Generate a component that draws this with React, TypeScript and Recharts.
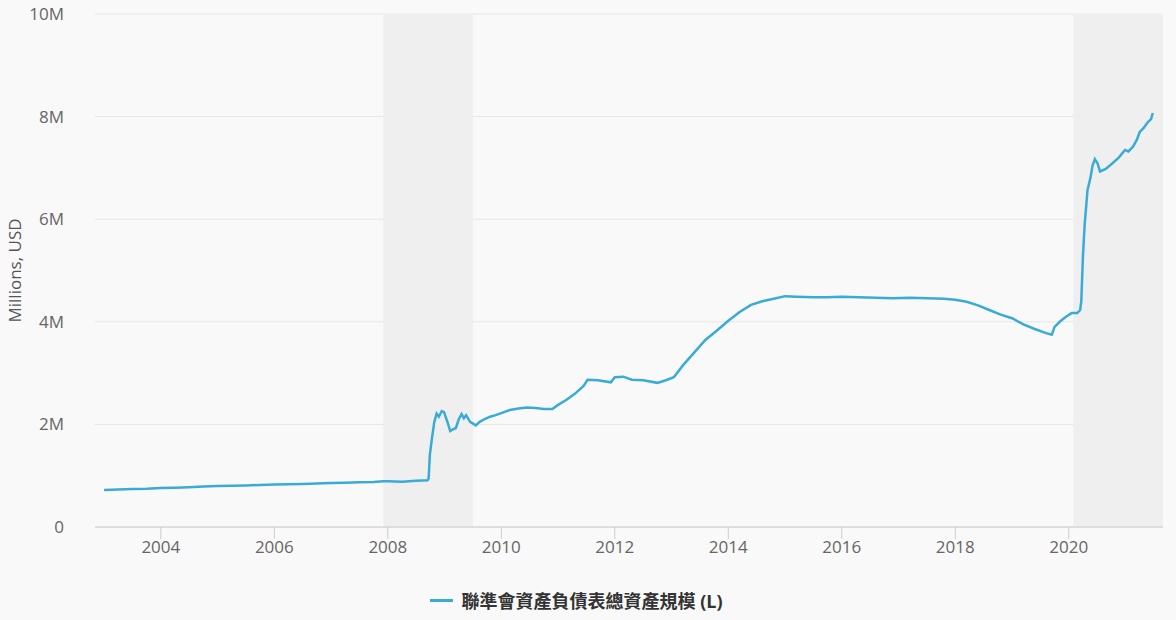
import React from 'react'
import {
  LineChart,
  Line,
  XAxis,
  YAxis,
  CartesianGrid,
  ReferenceArea,
  Legend,
} from 'recharts'

// decimal years
const years = [
  2003.0, 2003.25, 2003.5, 2003.75, 2004.0, 2004.25, 2004.5, 2004.75,
  2005.0, 2005.25, 2005.5, 2005.75, 2006.0, 2006.25, 2006.5, 2006.75,
  2007.0, 2007.25, 2007.5, 2007.75, 2007.92, 2008.0, 2008.25, 2008.5,
  2008.7, 2008.72, 2008.74, 2008.78, 2008.82, 2008.86, 2008.9, 2008.95,
  2008.99, 2009.05, 2009.1, 2009.14, 2009.2, 2009.25, 2009.3, 2009.34,
  2009.38, 2009.45, 2009.55, 2009.62, 2009.7, 2009.8, 2009.9, 2010.0,
  2010.15, 2010.3, 2010.45, 2010.6, 2010.75, 2010.9, 2011.0, 2011.15,
  2011.3, 2011.45, 2011.52, 2011.7, 2011.93, 2012.0, 2012.15, 2012.3,
  2012.5, 2012.75, 2012.9, 2013.04, 2013.2, 2013.39, 2013.6, 2013.8,
  2014.0, 2014.2, 2014.4, 2014.6, 2014.8, 2015.0, 2015.2, 2015.5,
  2015.75, 2016.0, 2016.3, 2016.6, 2016.9, 2017.2, 2017.5, 2017.8,
  2018.0, 2018.2, 2018.4, 2018.6, 2018.8, 2019.0, 2019.2, 2019.4,
  2019.6, 2019.7, 2019.75, 2019.85, 2019.95, 2020.05, 2020.15, 2020.2,
  2020.22, 2020.25, 2020.28, 2020.33, 2020.38, 2020.42, 2020.46, 2020.51,
  2020.55, 2020.65, 2020.77, 2020.88, 2020.99, 2021.05, 2021.13, 2021.2,
  2021.25, 2021.32, 2021.39, 2021.45, 2021.48,
]

// total assets, in M (millions of USD, millions)
const assets = [
  0.72, 0.73, 0.74, 0.745, 0.76, 0.765, 0.775, 0.79,
  0.8, 0.805, 0.81, 0.82, 0.83, 0.835, 0.84, 0.85,
  0.86, 0.865, 0.87, 0.875, 0.89, 0.89, 0.88, 0.9,
  0.91, 0.95, 1.4, 1.75, 2.05, 2.21, 2.15, 2.26,
  2.24, 2.05, 1.87, 1.9, 1.93, 2.1, 2.2, 2.12,
  2.18, 2.05, 1.98, 2.05, 2.1, 2.15, 2.18, 2.22,
  2.28, 2.31, 2.33, 2.32, 2.3, 2.3, 2.38, 2.48,
  2.6, 2.75, 2.87, 2.86, 2.82, 2.92, 2.93, 2.87,
  2.86, 2.81, 2.86, 2.92, 3.15, 3.39, 3.65, 3.83,
  4.02, 4.19, 4.33, 4.4, 4.45, 4.5, 4.49, 4.48,
  4.48, 4.49, 4.48, 4.47, 4.46, 4.47, 4.46, 4.45,
  4.43, 4.39, 4.32, 4.23, 4.14, 4.07, 3.95, 3.86,
  3.78, 3.75, 3.9, 4.01, 4.1, 4.17, 4.17, 4.23,
  4.4, 5.3, 5.9, 6.57, 6.8, 7.05, 7.17, 7.08,
  6.93, 6.98, 7.09, 7.2, 7.35, 7.32, 7.41, 7.55,
  7.7, 7.78, 7.89, 7.95, 8.07,
]

const xTicks = [2004, 2006, 2008, 2010, 2012, 2014, 2016, 2018, 2020]
const yTicks = [0, 2, 4, 6, 8, 10]

// recession shading
const recessions = [
  [2007.92, 2009.5],
  [2020.08, 2021.66],
]

const seriesName = '聯準會資產負債表總資產規模 (L)'
const lineColor = '#3aabd6'
const font = '"Open Sans", "Noto Sans CJK TC", sans-serif'

const data = years.map((t, i) => ({ t, v: assets[i] }))

function LegendContent() {
  return (
    <div
      style={{
        display: 'flex',
        justifyContent: 'center',
        alignItems: 'center',
        paddingTop: 10,
        marginLeft: -10,
        fontFamily: font,
        fontSize: 18,
        fontWeight: 700,
        color: '#333',
      }}
    >
      <span
        style={{
          display: 'inline-block',
          width: 23,
          height: 3,
          background: lineColor,
          marginRight: 8,
        }}
      />
      {seriesName}
    </div>
  )
}

export default function App() {
  return (
    <div style={{ position: 'absolute', left: 0, top: 0, width: 1176, height: 620, background: '#f9f9f9' }}>
      <LineChart
        width={1176}
        height={620}
        data={data}
        margin={{ top: 14, right: 13, left: 0, bottom: 0 }}
      >
        <CartesianGrid vertical={false} stroke="#e6e6e6" />
        {recessions.map(([a, b], i) => (
          <ReferenceArea key={i} x1={a} x2={b} fill="#efefef" fillOpacity={1} stroke="none" ifOverflow="hidden" />
        ))}
        <XAxis
          dataKey="t"
          type="number"
          domain={[2002.84, 2021.66]}
          ticks={xTicks}
          allowDataOverflow
          height={50}
          stroke="#ccc"
          tickSize={12}
          tick={{ fontSize: 17, fill: '#666', fontFamily: font }}
        />
        <YAxis
          type="number"
          domain={[0, 10]}
          ticks={yTicks}
          width={95}
          axisLine={false}
          tickLine={false}
          tickMargin={25}
          tickFormatter={(v: number) => (v === 0 ? '0' : `${v}M`)}
          tick={{ fontSize: 17, fill: '#666', fontFamily: font }}
          label={{
            value: 'Millions, USD',
            angle: -90,
            position: 'insideLeft',
            offset: 15,
            style: { fontSize: 17, fill: '#555', fontFamily: font, textAnchor: 'middle' },
          }}
        />
        <Legend verticalAlign="bottom" height={43} content={<LegendContent />} />
        <Line
          dataKey="v"
          name={seriesName}
          stroke={lineColor}
          strokeWidth={2.5}
          dot={false}
          type="linear"
          isAnimationActive={false}
        />
      </LineChart>
    </div>
  )
}
